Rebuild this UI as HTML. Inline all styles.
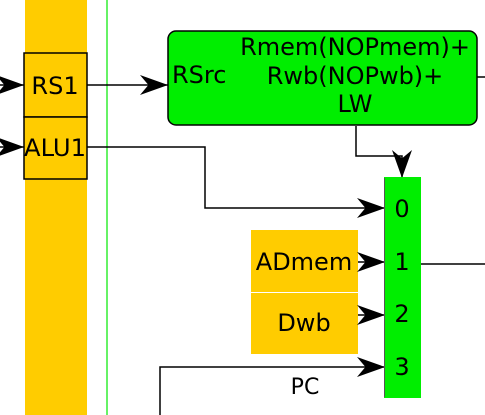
<!DOCTYPE html>
<html><head><style>body{margin:0;background:#fff}svg{display:block}text{font-family:"DejaVu Sans","Liberation Sans",sans-serif;font-size:24px;fill:#000}</style></head><body>
<svg width="485" height="415" viewBox="0 0 485 415" xmlns="http://www.w3.org/2000/svg">
<defs><marker id="a" viewBox="0 0 10 10" refX="10" refY="5" markerWidth="28" markerHeight="20" markerUnits="userSpaceOnUse" orient="auto" preserveAspectRatio="none"><path d="M0,0 L10,5 L0,10 L3,5 Z" fill="#000"/></marker></defs>
<rect x="25" y="0" width="62" height="415" fill="#ffcc00"/>
<line x1="107" y1="0" x2="107" y2="415" stroke="#33ee33" stroke-width="1.5"/>
<rect x="24" y="53" width="63" height="64" fill="#ffcc00" stroke="#000" stroke-width="1.5"/>
<rect x="24" y="117" width="63" height="62" fill="#ffcc00" stroke="#000" stroke-width="1.5"/>
<text x="55" y="94" text-anchor="middle">RS1</text>
<text x="55" y="156" text-anchor="middle" textLength="62" lengthAdjust="spacingAndGlyphs">ALU1</text>
<line x1="0" y1="85" x2="24" y2="85" stroke="#000" stroke-width="1.5" marker-end="url(#a)"/>
<line x1="0" y1="147" x2="24" y2="147" stroke="#000" stroke-width="1.5" marker-end="url(#a)"/>
<line x1="87" y1="85" x2="168" y2="85" stroke="#000" stroke-width="1.5" marker-end="url(#a)"/>
<rect x="168" y="31" width="309" height="94" rx="8" fill="#00ee00" stroke="#000" stroke-width="1.5"/>
<text x="172" y="83">RSrc</text>
<text x="355" y="55" text-anchor="middle">Rmem(NOPmem)+</text>
<text x="355" y="84" text-anchor="middle">Rwb(NOPwb)+</text>
<text x="355" y="112" text-anchor="middle">LW</text>
<line x1="477" y1="77" x2="485" y2="77" stroke="#000" stroke-width="1.5"/>
<polyline points="356,126 356,156 402,156 402,178" fill="none" stroke="#000" stroke-width="1.5" marker-end="url(#a)"/>
<polyline points="87,147 205,147 205,208 385,208" fill="none" stroke="#000" stroke-width="1.5" marker-end="url(#a)"/>
<rect x="251" y="230" width="107" height="62" fill="#ffcc00"/>
<rect x="251" y="293" width="107" height="61" fill="#ffcc00"/>
<text x="304" y="270" text-anchor="middle">ADmem</text>
<text x="304" y="331" text-anchor="middle">Dwb</text>
<line x1="358" y1="262" x2="385" y2="262" stroke="#000" stroke-width="1.5" marker-end="url(#a)"/>
<line x1="358" y1="315" x2="385" y2="315" stroke="#000" stroke-width="1.5" marker-end="url(#a)"/>
<polyline points="160,415 160,367 385,367" fill="none" stroke="#000" stroke-width="1.5" marker-end="url(#a)"/>
<text x="305" y="394" text-anchor="middle" style="font-size:22px">PC</text>
<rect x="384" y="177" width="37" height="221" fill="#00ee00"/>
<line x1="384.5" y1="178" x2="384.5" y2="397" stroke="#555" stroke-width="1"/>
<text x="402" y="217" text-anchor="middle">0</text>
<text x="402" y="270" text-anchor="middle">1</text>
<text x="402" y="322" text-anchor="middle">2</text>
<text x="402" y="375" text-anchor="middle">3</text>
<line x1="421" y1="264" x2="485" y2="264" stroke="#000" stroke-width="1.5"/>
</svg>
</body></html>
